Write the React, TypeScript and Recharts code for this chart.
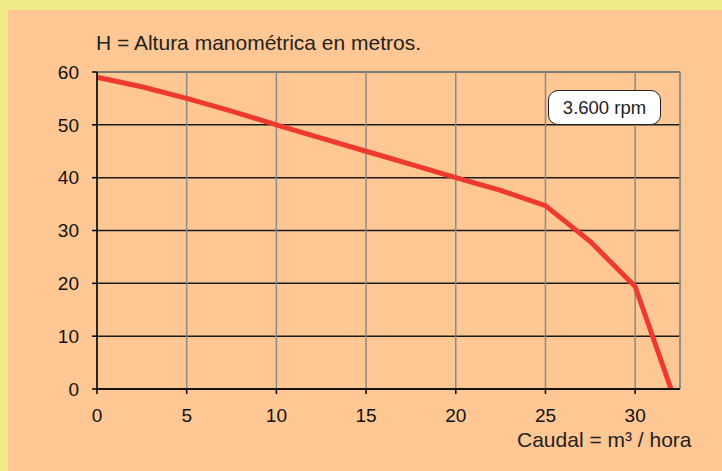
import { LineChart, Line, XAxis, YAxis, CartesianGrid, ReferenceLine } from "recharts";

// Pump curve at 3.600 rpm: caudal (m3/h) vs altura manométrica (m)
const caudal = [0, 2.5, 5, 7.5, 10, 12.5, 15, 17.5, 20, 22.5, 25, 27.5, 30, 32];
const altura = [59, 57.2, 55, 52.6, 50, 47.5, 45, 42.5, 40, 37.6, 34.7, 27.9, 19.4, 0];

const xTicks = [0, 5, 10, 15, 20, 25, 30];
const yTicks = [0, 10, 20, 30, 40, 50, 60];

const data = caudal.map((q, i) => ({ q, h: altura[i] }));

const FONT = "'Liberation Sans', Arial, sans-serif";

export default function App() {
  return (
    <div style={{ position: "absolute", left: 0, top: 0, width: 722, height: 471, background: "#EEEA88", fontFamily: FONT, overflow: "hidden" }}>
      <div style={{ position: "absolute", left: 8, top: 10, width: 714, height: 461, background: "#FFC794" }} />
      <div style={{ position: "absolute", left: 0, top: 0 }}>
        <LineChart width={722} height={471} data={data} margin={{ top: 72, right: 42, bottom: 42, left: 0 }}>
          <CartesianGrid vertical={false} stroke="#1a1a1a" strokeWidth={1.5} />
          <CartesianGrid horizontal={false} stroke="#8a8a8a" strokeWidth={1.5} />
          <ReferenceLine y={60} stroke="#8a8a8a" strokeWidth={1.5} />
          <ReferenceLine x={32.5} stroke="#8a8a8a" strokeWidth={1.5} />
          <XAxis
            type="number"
            dataKey="q"
            domain={[0, 32.5]}
            ticks={xTicks}
            interval={0}
            height={40}
            axisLine={{ stroke: "#000", strokeWidth: 1.5 }}
            tickLine={{ stroke: "#000", strokeWidth: 1.5 }}
            tickSize={5}
            tickMargin={15}
            tick={{ fill: "#111", fontSize: 19, fontFamily: FONT }}
          />
          <YAxis
            type="number"
            domain={[0, 60]}
            ticks={yTicks}
            interval={0}
            width={97}
            axisLine={{ stroke: "#000", strokeWidth: 1.5 }}
            tickLine={{ stroke: "#000", strokeWidth: 1.5 }}
            tickSize={5}
            tickMargin={13}
            tick={{ fill: "#111", fontSize: 19, fontFamily: FONT }}
          />
          <Line type="linear" dataKey="h" stroke="#EE3A2E" strokeWidth={5} dot={false} isAnimationActive={false} />
        </LineChart>
      </div>
      <div style={{ position: "absolute", left: 96, top: 31, fontSize: 21, color: "#222", whiteSpace: "nowrap" }}>
        H = Altura manométrica en metros.
      </div>
      <div style={{ position: "absolute", left: 517, top: 428, fontSize: 21, color: "#222", whiteSpace: "nowrap" }}>
        Caudal = m³ / hora
      </div>
      <div
        style={{
          position: "absolute",
          left: 548,
          top: 90,
          width: 111,
          height: 33,
          background: "#fff",
          border: "1px solid #222",
          borderRadius: 10,
          fontSize: 18.5,
          color: "#222",
          display: "flex",
          alignItems: "center",
          justifyContent: "center",
        }}
      >
        3.600 rpm
      </div>
    </div>
  );
}
